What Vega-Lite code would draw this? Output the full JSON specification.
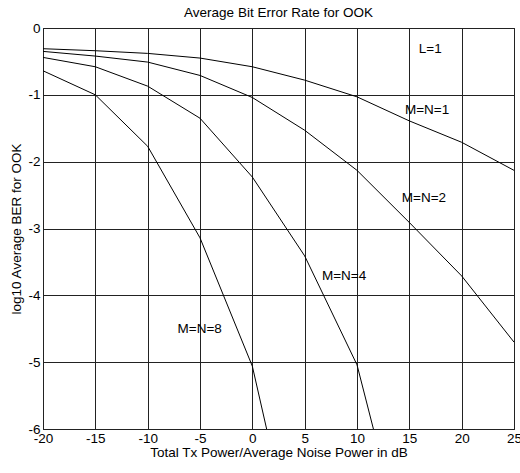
{
  "$schema": "https://vega.github.io/schema/vega-lite/v6.json",
  "autosize": "none",
  "width": 471,
  "height": 401,
  "padding": {"left": 43, "top": 28, "right": 6, "bottom": 44},
  "background": "white",
  "title": {"text": "Average Bit Error Rate for OOK", "fontSize": 13.5, "fontWeight": "normal", "font": "Liberation Sans", "color": "black", "offset": 2},
  "config": {
    "font": "Liberation Sans",
    "view": {"stroke": "black", "strokeWidth": 1},
    "axis": {
      "labelFont": "Liberation Sans", "labelFontSize": 13.5, "labelColor": "black",
      "titleFont": "Liberation Sans", "titleFontSize": 13.5, "titleFontWeight": "normal", "titleColor": "black",
      "grid": true, "gridColor": "#222", "gridWidth": 1, "gridOpacity": 1,
      "ticks": false, "domain": false, "labelFlush": false, "labelOverlap": false, "labelBound": false,
      "labelExpr": "'' + datum.value"
    }
  },
  "datasets": {
    "curves": [
      {"series": "M=N=1", "x": -20, "y": -0.31},
      {"series": "M=N=1", "x": -15, "y": -0.34},
      {"series": "M=N=1", "x": -10, "y": -0.38},
      {"series": "M=N=1", "x": -5, "y": -0.45},
      {"series": "M=N=1", "x": 0, "y": -0.58},
      {"series": "M=N=1", "x": 5, "y": -0.78},
      {"series": "M=N=1", "x": 10, "y": -1.03},
      {"series": "M=N=1", "x": 15, "y": -1.39},
      {"series": "M=N=1", "x": 20, "y": -1.71},
      {"series": "M=N=1", "x": 25, "y": -2.13},
      {"series": "M=N=2", "x": -20, "y": -0.35},
      {"series": "M=N=2", "x": -15, "y": -0.42},
      {"series": "M=N=2", "x": -10, "y": -0.51},
      {"series": "M=N=2", "x": -5, "y": -0.71},
      {"series": "M=N=2", "x": 0, "y": -1.04},
      {"series": "M=N=2", "x": 5, "y": -1.53},
      {"series": "M=N=2", "x": 10, "y": -2.13},
      {"series": "M=N=2", "x": 15, "y": -2.91},
      {"series": "M=N=2", "x": 20, "y": -3.71},
      {"series": "M=N=2", "x": 25, "y": -4.70},
      {"series": "M=N=4", "x": -20, "y": -0.44},
      {"series": "M=N=4", "x": -15, "y": -0.58},
      {"series": "M=N=4", "x": -10, "y": -0.87},
      {"series": "M=N=4", "x": -5, "y": -1.35},
      {"series": "M=N=4", "x": 0, "y": -2.23},
      {"series": "M=N=4", "x": 5, "y": -3.41},
      {"series": "M=N=4", "x": 10, "y": -5.04},
      {"series": "M=N=4", "x": 15, "y": -8.1},
      {"series": "M=N=8", "x": -20, "y": -0.64},
      {"series": "M=N=8", "x": -15, "y": -1.0},
      {"series": "M=N=8", "x": -10, "y": -1.77},
      {"series": "M=N=8", "x": -5, "y": -3.14},
      {"series": "M=N=8", "x": 0, "y": -5.06},
      {"series": "M=N=8", "x": 5, "y": -8.5}
    ],
    "labels": [
      {"label": "L=1", "x": 17.0, "y": -0.31},
      {"label": "M=N=1", "x": 16.7, "y": -1.23},
      {"label": "M=N=2", "x": 16.4, "y": -2.55},
      {"label": "M=N=4", "x": 8.76, "y": -3.71},
      {"label": "M=N=8", "x": -5.03, "y": -4.50}
    ]
  },
  "layer": [
    {
      "data": {"name": "curves"},
      "mark": {"type": "line", "color": "black", "strokeWidth": 1, "clip": true},
      "encoding": {
        "x": {"field": "x", "type": "quantitative",
              "scale": {"domain": [-20, 25], "nice": false, "zero": false},
              "axis": {"values": [-20, -15, -10, -5, 0, 5, 10, 15, 20, 25], "title": "Total Tx Power/Average Noise Power in dB", "labelPadding": 2, "titlePadding": 1}},
        "y": {"field": "y", "type": "quantitative",
              "scale": {"domain": [-6, 0], "nice": false, "zero": false},
              "axis": {"values": [-6, -5, -4, -3, -2, -1, 0], "title": "log10 Average BER for OOK", "labelPadding": 3, "titlePadding": 4}},
        "detail": {"field": "series"}
      }
    },
    {
      "data": {"name": "labels"},
      "mark": {"type": "text", "fontSize": 13.5, "color": "black", "align": "center", "baseline": "middle"},
      "encoding": {
        "x": {"field": "x", "type": "quantitative"},
        "y": {"field": "y", "type": "quantitative"},
        "text": {"field": "label"}
      }
    }
  ]
}
